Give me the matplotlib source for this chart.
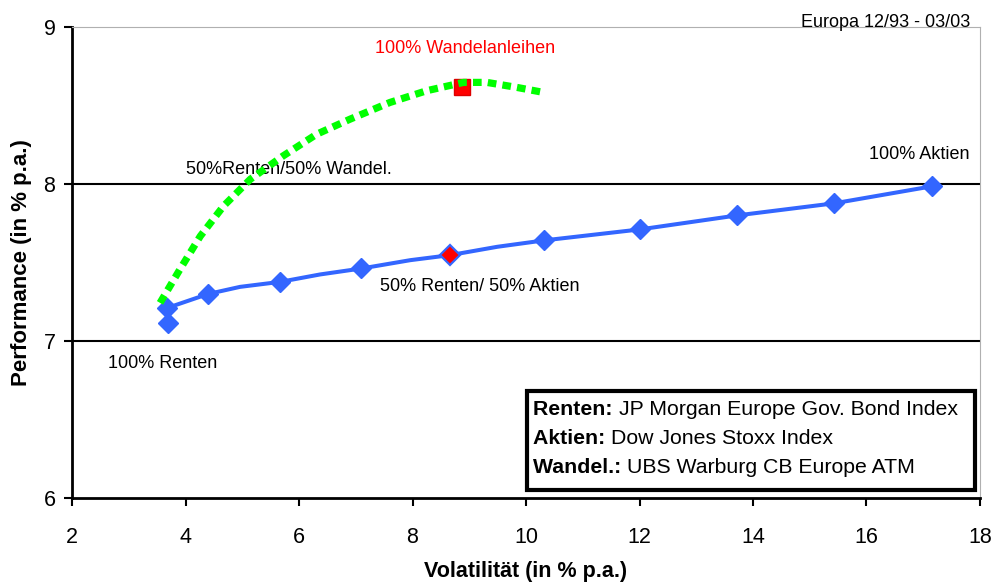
import matplotlib
matplotlib.use("Agg")
import matplotlib.pyplot as plt

plt.rcParams['font.family'] = ['Liberation Sans', 'DejaVu Sans']

# Rendite/Risiko Renten-Aktien (blue line)
ra_vol = [3.67, 4.40, 4.96, 5.67, 6.37, 7.10, 7.96, 8.66, 9.49, 10.32, 12.01, 13.72, 15.43, 17.15]
ra_perf = [7.21, 7.30, 7.345, 7.377, 7.424, 7.462, 7.515, 7.547, 7.60, 7.641, 7.711, 7.80, 7.877, 7.985]
# marker points on the blue line
mk_vol = [3.67, 3.69, 4.40, 5.67, 7.10, 10.32, 12.01, 13.72, 15.43, 17.15]
mk_perf = [7.21, 7.115, 7.30, 7.377, 7.462, 7.641, 7.711, 7.80, 7.877, 7.985]
mix_vol = [8.66]
mix_perf = [7.547]

# Renten-Wandelanleihen (green dotted)
rw_vol = [3.55, 3.90, 4.26, 4.67, 5.14, 5.72, 6.31, 6.90, 7.60, 8.25, 8.90, 9.31, 9.84, 10.31]
rw_perf = [7.243, 7.456, 7.668, 7.86, 8.03, 8.179, 8.317, 8.413, 8.519, 8.594, 8.647, 8.647, 8.615, 8.583]
wa_vol = [8.87]
wa_perf = [8.615]

blue = '#3366FF'
fig = plt.figure(figsize=(10.01, 5.86), dpi=100)
ax = fig.add_axes([0.072, 0.150, 0.907, 0.804])

ax.plot(ra_vol, ra_perf, color=blue, lw=2.9, zorder=3)
ax.plot(mk_vol, mk_perf, ls='none', marker='D', ms=10.5, color=blue, zorder=4)
ax.plot(mix_vol, mix_perf, ls='none', marker='D', ms=10, mfc='red', mec=blue, mew=1.6, zorder=5)
ax.plot(wa_vol, wa_perf, ls='none', marker='s', ms=12, mfc='red', mec='#dd0000', zorder=3)
ax.plot(rw_vol, rw_perf, color='#00FF00', lw=5.2, ls=(0, (1.2, 0.85)), zorder=4)

ax.set_xlim(2, 18)
ax.set_ylim(6, 9)
ax.set_xticks(range(2, 19, 2))
ax.set_yticks([6, 7, 8, 9])
for yv in [7, 8]:
    ax.axhline(yv, color='black', lw=1.5, zorder=1)
ax.spines['top'].set_color('#b0b0b0')
ax.spines['right'].set_color('#b0b0b0')
ax.spines['left'].set_linewidth(2)
ax.spines['bottom'].set_linewidth(2)
ax.tick_params(direction='out', length=6, width=1.5, labelsize=15.5)
ax.tick_params(axis='x', pad=15)
ax.tick_params(axis='y', pad=6)
ax.set_xlabel('Volatilität (in % p.a.)', fontsize=15.5, fontweight='bold', labelpad=9)
ax.set_ylabel('Performance (in % p.a.)', fontsize=16, fontweight='bold', labelpad=8)

ax.text(7.34, 8.86, '100% Wandelanleihen', color='red', fontsize=13, va='center')
ax.text(4.01, 8.094, '50%Renten/50% Wandel.', fontsize=13, va='center')
ax.text(17.82, 8.19, '100% Aktien', fontsize=13, va='center', ha='right')
ax.text(7.43, 7.35, '50% Renten/ 50% Aktien', fontsize=13, va='center')
ax.text(2.63, 6.86, '100% Renten', fontsize=13, va='center')
ax.text(17.82, 9.026, 'Europa 12/93 - 03/03', fontsize=13, va='center', ha='right', clip_on=False)

# Legend box
box = plt.Rectangle((0.501, 0.017), 0.4935, 0.21, transform=ax.transAxes,
                    fill=True, facecolor='white', edgecolor='black', lw=3, zorder=6)
ax.add_patch(box)
legend_rows = [('Renten:', 'JP Morgan Europe Gov. Bond Index', 0.189),
               ('Aktien:', 'Dow Jones Stoxx Index', 0.127),
               ('Wandel.:', 'UBS Warburg CB Europe ATM', 0.066)]
renderer = fig.canvas.get_renderer()
for bold, normal, yy in legend_rows:
    t = ax.text(0.508, yy, bold + ' ', transform=ax.transAxes, fontsize=15.3,
                fontweight='bold', va='center', zorder=7)
    bb = t.get_window_extent(renderer=renderer)
    x1 = ax.transAxes.inverted().transform((bb.x1, bb.y0))[0]
    ax.text(x1, yy, normal, transform=ax.transAxes, fontsize=15.3, va='center', zorder=7)

fig.savefig('out.png', dpi=100)
